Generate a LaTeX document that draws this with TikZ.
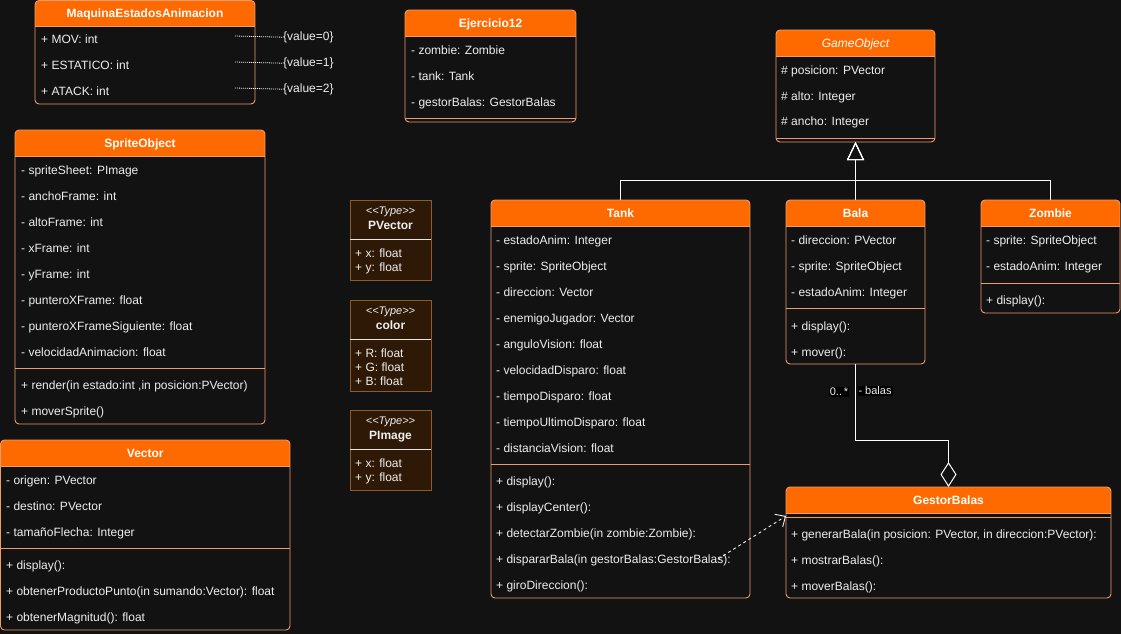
\documentclass[tikz,border=0pt]{standalone}
\usepackage{fontspec}
\setmainfont{Liberation Sans}
\usetikzlibrary{arrows.meta,calc}
\definecolor{bg}{HTML}{121212}
\definecolor{hdr}{HTML}{FF6A00}
\definecolor{brd}{HTML}{EE9C6E}
\definecolor{txt}{HTML}{EEEEEE}
\definecolor{tyfill}{HTML}{2E1906}
\definecolor{tybrd}{HTML}{8C5A2C}
\definecolor{tydiv}{HTML}{E6E6E6}
\definecolor{lbl}{HTML}{000000}
\tikzset{
  clsbox/.style={rectangle, anchor=north west, inner sep=0pt, outer sep=0pt, fill=bg, rounded corners=4pt},
  clsline/.style={draw=brd, line width=0.9pt},
  hdrtxt/.style={anchor=base, yshift=-4.3pt, inner sep=0pt, text=white, font=\fontsize{12}{14}\selectfont\bfseries},
  rowtxt/.style={anchor=base west, yshift=-4.3pt, inner sep=0pt, text=txt, font=\fontsize{12}{14}\selectfont},
  tybox/.style={rectangle, anchor=north west, inner sep=0pt, outer sep=0pt, fill=tyfill, draw=tybrd, line width=0.9pt},
  sttxt/.style={anchor=base, yshift=-4.3pt, inner sep=0pt, text=txt, font=\fontsize{11}{13}\selectfont\itshape},
  tyname/.style={anchor=base, yshift=-4.3pt, inner sep=0pt, text=txt, font=\fontsize{12}{14}\selectfont\bfseries},
  tyline/.style={draw=tydiv, line width=0.9pt},
  valtxt/.style={anchor=base west, yshift=-4.3pt, inner sep=0pt, text=txt, font=\fontsize{12}{14}\selectfont},
  dotline/.style={draw=txt!80, line width=0.8pt, dash pattern=on 1pt off 1pt},
  inh/.style={draw=white, line width=1pt, -{Triangle[open, length=18pt, width=17pt, line width=1pt]}},
  agg/.style={draw=white, line width=1pt, -{Diamond[open, length=25pt, width=16pt, line width=1pt]}},
  dep/.style={draw=txt, line width=0.9pt, dash pattern=on 3pt off 3pt, -{Straight Barb[length=8pt, width=15pt, line width=0.9pt]}},
  elabel/.style={fill=lbl, inner sep=1pt, text=txt, font=\fontsize{11}{13}\selectfont}
}
\newcommand\umlbox[6]{%
  \node[clsbox, minimum width=#4pt, minimum height=#5pt] (#1) at (#2,#3) {};
  \begin{scope}
    \clip[rounded corners=4pt] (#1.north west) rectangle (#1.south east);
    \fill[hdr] (#1.north west) rectangle ([yshift=-26pt]#1.north east);
  \end{scope}
  \draw[clsline] ([yshift=-26pt]#1.north west) -- ([yshift=-26pt]#1.north east);
  \draw[clsline, rounded corners=4pt] (#1.north west) rectangle (#1.south east);
  \node[hdrtxt] (#1-title) at ([yshift=-13pt]#1.north) {#6};
}
\newcommand\umlrow[4]{\node[rowtxt] (#1) at (#2,#3) {#4};}
\newcommand\typebx[6]{%
  \node[tybox, minimum width=#4pt, minimum height=#5pt] (#1) at (#2,#3) {};
  \node[sttxt] (#1-st) at ([yshift=-10pt]#1.north) {<\kern0pt<Type>\kern0pt>};
  \node[tyname] (#1-title) at ([yshift=-25pt]#1.north) {#6};
  \draw[tyline] ([yshift=-39pt]#1.north west) -- ([yshift=-39pt]#1.north east);
}
\begin{document}
\begin{tikzpicture}[x=1pt,y=-1pt]
\fill[bg] (0,0) rectangle (1121,634);
\useasboundingbox (0,0) rectangle (1121,634);

% MaquinaEstadosAnimacion
\umlbox{maq}{35}{0.5}{220}{103.5}{MaquinaEstadosAnimacion}
\umlrow{maq1}{41}{39}{+ MOV: int}
\umlrow{maq2}{41}{65}{+ ESTATICO: int}
\umlrow{maq3}{41}{91}{+ ATACK: int}
\node[valtxt] (v0) at (283,36) {\{value=0\}};
\node[valtxt] (v1) at (283,62) {\{value=1\}};
\node[valtxt] (v2) at (283,88) {\{value=2\}};
\coordinate (m0) at (235,36);
\coordinate (m1) at (235,62);
\coordinate (m2) at (235,88);
\draw[dotline] (m0) -- (v0.west);
\draw[dotline] (m1) -- (v1.west);
\draw[dotline] (m2) -- (v2.west);

% Ejercicio12
\umlbox{ej}{405}{10}{171}{112}{Ejercicio12}
\umlrow{ej1}{411}{50}{- zombie: Zombie}
\umlrow{ej2}{411}{76}{- tank: Tank}
\umlrow{ej3}{411}{102}{- gestorBalas: GestorBalas}
\draw[clsline] (405,118) -- (576,118);

% GameObject
\umlbox{go}{776}{30}{159}{112}{\mdseries\itshape GameObject}
\umlrow{go1}{781}{70}{\# posicion: PVector}
\umlrow{go2}{781}{96}{\# alto: Integer}
\umlrow{go3}{781}{121}{\# ancho: Integer}
\draw[clsline] (776,138) -- (935,138);

% SpriteObject
\umlbox{spr}{15}{130}{250}{294}{SpriteObject}
\umlrow{spr1}{21}{170}{- spriteSheet: PImage}
\umlrow{spr2}{21}{196}{- anchoFrame: int}
\umlrow{spr3}{21}{222}{- altoFrame: int}
\umlrow{spr4}{21}{248}{- xFrame: int}
\umlrow{spr5}{21}{274}{- yFrame: int}
\umlrow{spr6}{21}{300}{- punteroXFrame: float}
\umlrow{spr7}{21}{326}{- punteroXFrameSiguiente: float}
\umlrow{spr8}{21}{352}{- velocidadAnimacion: float}
\draw[clsline] (15,368) -- (265,368);
\umlrow{spr9}{21}{385}{+ render(in estado:int ,in posicion:PVector)}
\umlrow{spr10}{21}{411}{+ moverSprite()}

% Vector
\umlbox{vec}{0.5}{440}{289.5}{190}{Vector}
\umlrow{vec1}{6}{480}{- origen: PVector}
\umlrow{vec2}{6}{506}{- destino: PVector}
\umlrow{vec3}{6}{532}{- tamañoFlecha: Integer}
\draw[clsline] (0.5,548) -- (290,548);
\umlrow{vec4}{6}{565}{+ display():}
\umlrow{vec5}{6}{591}{+ obtenerProductoPunto(in sumando:Vector): float}
\umlrow{vec6}{6}{617}{+ obtenerMagnitud(): float}

% Type boxes
\typebx{pv}{350}{200}{81}{80}{PVector}
\umlrow{pv1}{355}{253}{+ x: float}
\umlrow{pv2}{355}{267}{+ y: float}
\typebx{col}{350}{300}{81}{91}{color}
\umlrow{col1}{355}{353}{+ R: float}
\umlrow{col2}{355}{367}{+ G: float}
\umlrow{col3}{355}{381}{+ B: float}
\typebx{pim}{350}{410}{81}{80}{PImage}
\umlrow{pim1}{355}{463}{+ x: float}
\umlrow{pim2}{355}{477}{+ y: float}

% Tank
\umlbox{tank}{491}{200}{259}{398}{Tank}
\umlrow{tk1}{496}{240}{- estadoAnim: Integer}
\umlrow{tk2}{496}{266}{- sprite: SpriteObject}
\umlrow{tk3}{496}{292}{- direccion: Vector}
\umlrow{tk4}{496}{318}{- enemigoJugador: Vector}
\umlrow{tk5}{496}{344}{- anguloVision: float}
\umlrow{tk6}{496}{370}{- velocidadDisparo: float}
\umlrow{tk7}{496}{396}{- tiempoDisparo: float}
\umlrow{tk8}{496}{422}{- tiempoUltimoDisparo: float}
\umlrow{tk9}{496}{448}{- distanciaVision: float}
\draw[clsline] (491,464) -- (750,464);
\umlrow{tk10}{496}{481}{+ display():}
\umlrow{tk11}{496}{507}{+ displayCenter():}
\umlrow{tk12}{496}{533}{+ detectarZombie(in zombie:Zombie):}
\umlrow{tk13}{496}{559}{+ dispararBala(in gestorBalas:GestorBalas):}
\umlrow{tk14}{496}{585}{+ giroDireccion():}

% Bala
\umlbox{bala}{786}{200}{139}{164}{Bala}
\umlrow{ba1}{791}{240}{- direccion: PVector}
\umlrow{ba2}{791}{266}{- sprite: SpriteObject}
\umlrow{ba3}{791}{292}{- estadoAnim: Integer}
\draw[clsline] (786,308) -- (925,308);
\umlrow{ba4}{791}{326}{+ display():}
\umlrow{ba5}{791}{352}{+ mover():}

% Zombie
\umlbox{zom}{981}{200}{139}{113}{Zombie}
\umlrow{zo1}{986}{240}{- sprite: SpriteObject}
\umlrow{zo2}{986}{266}{- estadoAnim: Integer}
\draw[clsline] (981,283) -- (1120,283);
\umlrow{zo3}{986}{300}{+ display():}

% GestorBalas
\umlbox{gb}{786}{487}{325}{111}{GestorBalas}
\draw[clsline] (786,517) -- (1111,517);
\umlrow{gb1}{791}{534}{+ generarBala(in posicion: PVector, in direccion:PVector):}
\umlrow{gb2}{791}{560}{+ mostrarBalas():}
\umlrow{gb3}{791}{586}{+ moverBalas():}

% Inheritance
\draw[inh] (tank.north) -- ++(0,-20) -| (go.south);
\draw[inh] (zom.north) -- ++(0,-20) -| (go.south);
\draw[inh] (bala.north) -- (go.south);

% Aggregation
\draw[agg] (bala.south) -- ++(0,76) -| (gb.north);
\node[elabel] (card) at (839,392) {0..\,*};
\node[elabel] (role) at (875,391) {- balas};

% Dependency
\coordinate (depstart) at (718,559);
\draw[dep] (depstart) -- ([yshift=-29pt]gb.north west);
\end{tikzpicture}
\end{document}
